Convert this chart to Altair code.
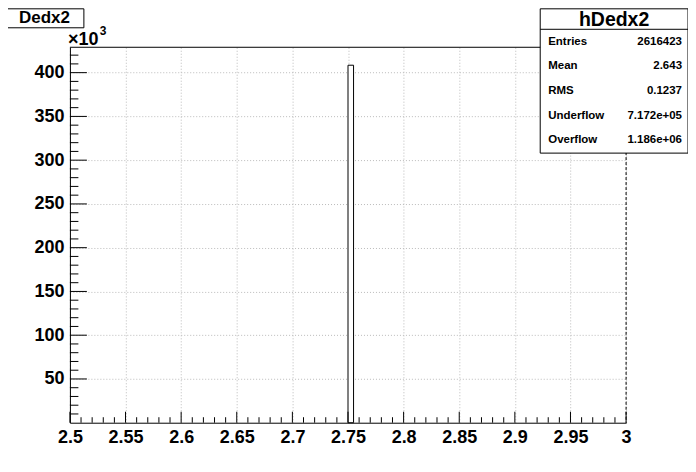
import altair as alt
import pandas as pd
import numpy as np

# ---- data ----
bin_lo = [2.75]
bin_hi = [2.755]
counts = [408500]
y_max = 429000

x_major = [2.5, 2.55, 2.6, 2.65, 2.7, 2.75, 2.8, 2.85, 2.9, 2.95, 3.0]
y_major = [50000, 100000, 150000, 200000, 250000, 300000, 350000, 400000]
x_minor = [round(2.5 + 0.01 * i, 3) for i in range(1, 50) if i % 5 != 0]
y_minor = [10000 * i for i in range(1, 43) if i % 5 != 0]

hist_title = "Dedx2"
stats_name = "hDedx2"
stats_labels = ["Entries", "Mean", "RMS", "Underflow", "Overflow"]
stats_values = ["2616423", "2.643", "0.1237", "7.172e+05", "1.186e+06"]

W, H = 557, 376
FONT = "Liberation Sans"

xs = alt.Scale(domain=[2.5, 3.0], nice=False, zero=False)
ys = alt.Scale(domain=[0, y_max], nice=False, zero=False)
x_axis = alt.Axis(values=x_major, title=None, labelExpr="format(datum.value, '~g')",
                  labelFlush=False, labelPadding=6)
y_axis = alt.Axis(values=y_major, title=None, labelExpr="format(datum.value/1000, 'd')",
                  labelPadding=6)

hist_df = pd.DataFrame({"lo": bin_lo, "hi": bin_hi, "count": counts})
one = pd.DataFrame({"k": [0]})

hist = alt.Chart(hist_df).mark_rect(fill="white", stroke="black", strokeWidth=1).encode(
    x=alt.X("lo:Q", scale=xs, axis=x_axis),
    x2="hi:Q",
    y=alt.Y("count:Q", scale=ys, axis=y_axis),
    y2=alt.datum(0),
)

def xticks(vals, length):
    return alt.Chart(pd.DataFrame({"v": vals})).mark_rule(color="black", strokeWidth=1).encode(
        x=alt.X("v:Q", scale=xs, axis=x_axis),
        y=alt.value(H), y2=alt.value(H - length))

def yticks(vals, length):
    return alt.Chart(pd.DataFrame({"v": vals})).mark_rule(color="black", strokeWidth=1).encode(
        y=alt.Y("v:Q", scale=ys, axis=y_axis),
        x=alt.value(0), x2=alt.value(length))

top_line = alt.Chart(one).mark_rule(color="black", strokeWidth=1).encode(
    x=alt.value(0), x2=alt.value(W), y=alt.value(0))
right_line = alt.Chart(one).mark_rule(color="black", strokeWidth=1, strokeDash=[3, 2]).encode(
    x=alt.value(W), y=alt.value(0), y2=alt.value(H))

def box(x1, x2, y1, y2):
    return alt.Chart(one).mark_rect(fill="white", stroke="black", strokeWidth=1).encode(
        x=alt.value(x1), x2=alt.value(x2), y=alt.value(y1), y2=alt.value(y2))

def txt(s, x, y, size, align="left", weight="bold", baseline="middle"):
    return alt.Chart(one).mark_text(font=FONT, fontSize=size, fontWeight=weight, align=align,
                                    baseline=baseline, color="black").encode(
        x=alt.value(x), y=alt.value(y), text=alt.value(s))

layers = [hist,
          xticks(x_major, 11), xticks(x_minor, 5.5),
          yticks(y_major, 17), yticks(y_minor, 8.5),
          top_line, right_line,
          box(-65, 14, -38.5, -19.5), txt(hist_title, -25.5, -29, 17, align="center"),
          txt("\u00d710", -2, -2, 18, baseline="alphabetic"),
          txt("3", 30, -12, 12, baseline="alphabetic"),
          box(471, 619, -38.5, 106),
          alt.Chart(one).mark_rule(color="black", strokeWidth=1).encode(
              x=alt.value(471), x2=alt.value(619), y=alt.value(-18)),
          txt(stats_name, 545, -27.5, 19.5, align="center")]

row_y = [-5, 19, 44, 69, 93]
for lab, val, yy in zip(stats_labels, stats_values, row_y):
    layers.append(txt(lab, 479, yy, 11.5))
    layers.append(txt(val, 613, yy, 11.5, align="right"))

chart = alt.layer(*layers).properties(
    width=W, height=H,
    autosize=alt.AutoSizeParams(type="none"),
    padding={"left": 62, "top": 39, "right": 62, "bottom": 28},
).configure_view(stroke=None).configure_axis(
    labelFont=FONT, labelFontWeight="bold", labelFontSize=18, labelColor="black",
    domainColor="black", domainWidth=1, ticks=False,
    grid=True, gridColor="#bbbbbb", gridDash=[1, 2], gridWidth=1,
)

chart.save("out.html", embed_options={"renderer": "svg", "actions": False})
